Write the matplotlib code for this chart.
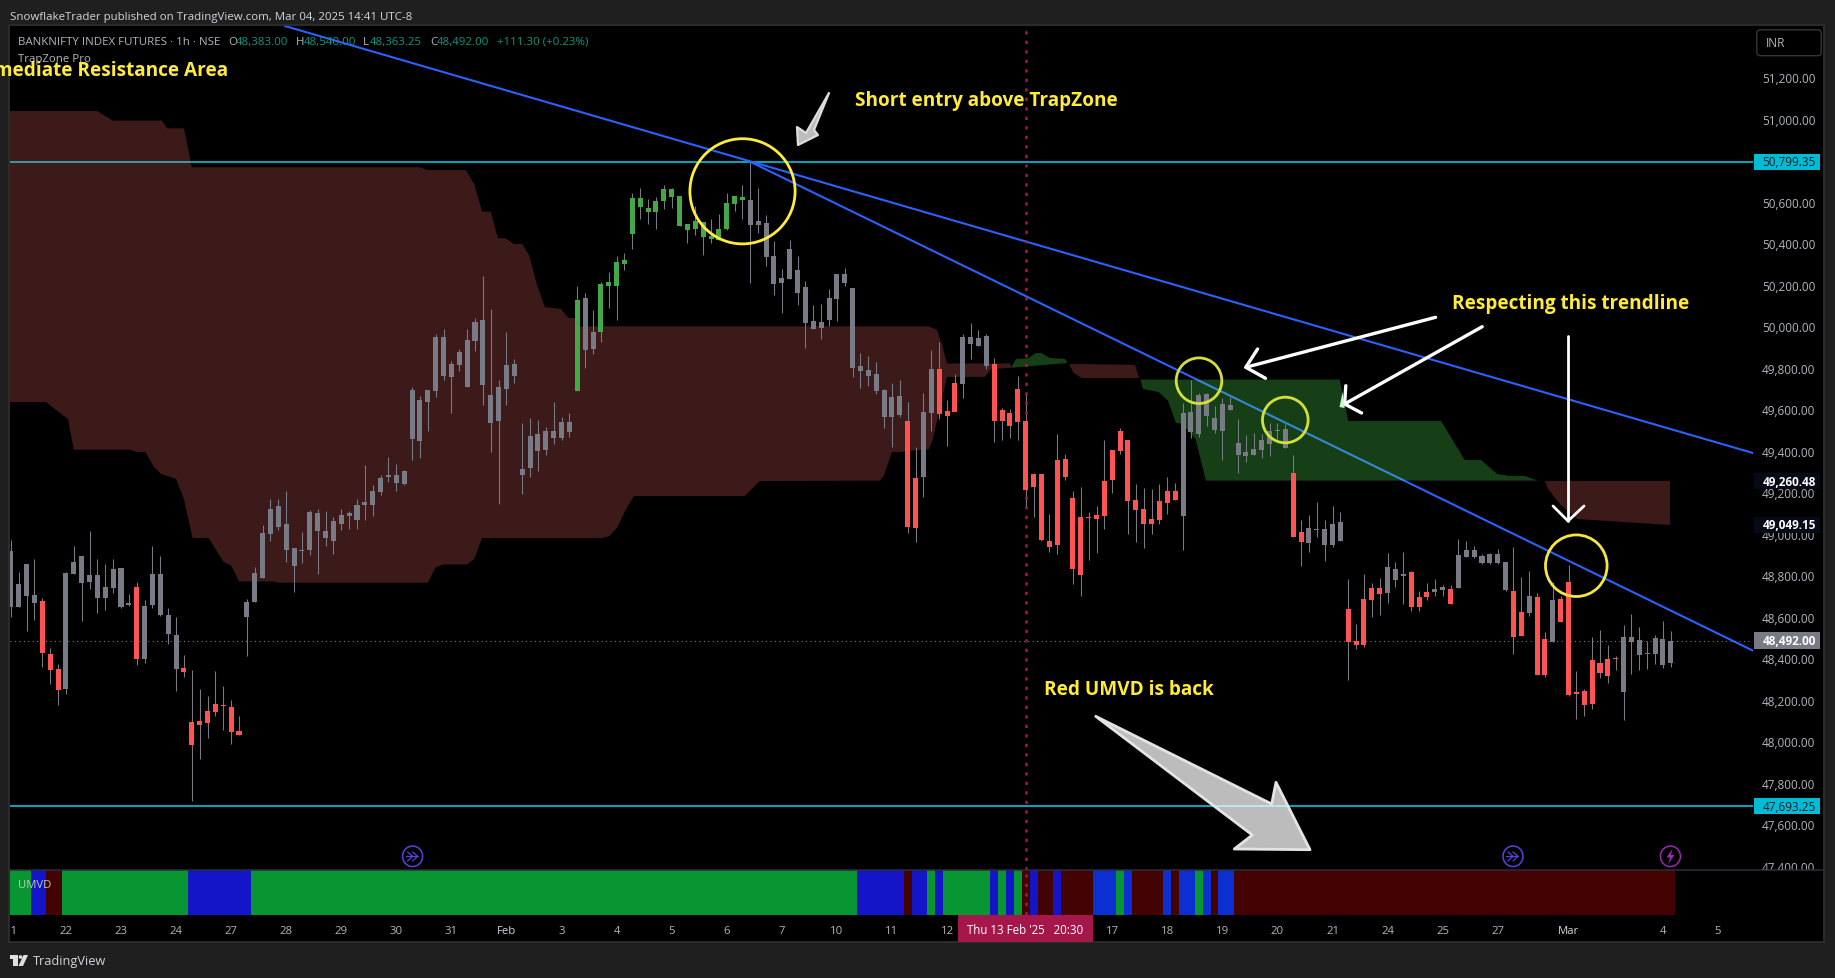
import numpy as np
import matplotlib
matplotlib.use("Agg")
import matplotlib.pyplot as plt
from matplotlib.patches import Rectangle, Polygon, Ellipse, Circle, FancyBboxPatch
from matplotlib.transforms import Affine2D, Bbox, blended_transform_factory
from matplotlib.lines import Line2D

W, H = 1835, 979
plt.rcParams['font.family'] = ['Open Sans', 'DejaVu Sans']

# ---------------- data ----------------
highs = [48976,48822,48861,48885,48697,48456,48378,48822,48948,48899,
49020,48885,48861,48885,48841,48716,48774,48687,48948,48899,
48649,48605,48422,48350,48258,48224,48345,48272,48205,48128,
48692,48846,49049,49174,49174,49213,48938,49015,49121,49126,
49116,49087,49126,49116,49174,49338,49242,49290,49377,49343,
49314,49715,49672,49701,49970,49995,49840,49898,49995,50048,
50250,50091,49749,49980,49850,49541,49565,49556,49522,49643,
49570,49590,50202,50168,50086,50221,50269,50346,50361,50650,
50674,50621,50631,50689,50674,50636,50500,50587,50510,50525,
50549,50650,50636,50689,50800,50674,50544,50419,50284,50423,
50346,50226,50110,50115,50187,50260,50288,50192,49878,49864,
49835,49705,49733,49748,49642,49425,49685,49893,49931,49651,
49777,49970,50023,49989,49970,49854,49613,49608,49767,49680,
49299,49295,49102,49487,49391,49213,49232,49111,49140,49459,
49410,49516,49459,49246,49227,49222,49246,49280,49251,49637,
49748,49685,49685,49622,49661,49666,49560,49483,49492,49487,
49541,49541,49536,49386,49073,49097,49160,49073,49140,49111,
48789,48572,48813,48769,48793,48914,48871,48919,48827,48731,
48769,48789,48760,48760,48982,48972,48948,48909,48914,48933,
48871,48943,48798,48827,48721,48533,48774,48707,48856,48345,
48258,48509,48543,48470,48417,48567,48620,48557,48490,48519,
48586,48540]
lows = [48605,48653,48538,48591,48364,48282,48181,48234,48813,48586,
48740,48624,48639,48721,48649,48658,48374,48383,48649,48610,
48475,48248,48316,47719,47920,48021,48129,48062,47994,48036,
48417,48677,48793,48972,49025,48870,48726,48866,48904,48812,
48947,48909,49025,49030,49030,49073,49092,49193,49256,49213,
49242,49362,49372,49503,49667,49749,49590,49792,49715,49889,
49628,49401,49150,49628,49734,49198,49280,49309,49386,49439,
49459,49473,49695,49806,49874,49932,50096,50038,50279,50380,
50525,50501,50476,50573,50578,50491,50409,50446,50351,50409,
50423,50472,50563,50525,50216,50457,50298,50158,50071,50235,
50110,49903,49994,49946,50009,50033,50202,49763,49710,49719,
49681,49518,49425,49570,49010,48967,49184,49502,49560,49430,
49661,49661,49849,49912,49801,49449,49459,49468,49459,49135,
49087,48972,48918,48909,49266,48764,48706,48880,48914,49029,
49203,49391,49005,48967,48938,49005,49053,49102,49169,48928,
49468,49473,49526,49492,49362,49603,49299,49352,49386,49372,
49381,49463,49420,48990,48851,48918,48991,48875,48943,48972,
48302,48451,48461,48605,48615,48673,48750,48668,48634,48634,
48687,48707,48707,48668,48745,48895,48890,48861,48861,48861,
48731,48427,48514,48610,48326,48316,48485,48581,48224,48113,
48128,48162,48311,48287,48350,48109,48330,48350,48355,48379,
48359,48363]
body_top = [48923,48764,48861,48711,48682,48427,48354,48817,48870,48899,
48808,48808,48750,48837,48841,48673,48750,48658,48813,48813,
48615,48518,48359,48099,48103,48152,48185,48180,48171,48055,
48677,48817,49010,49126,49140,49054,48938,48928,49111,49107,
49020,49068,49097,49107,49145,49160,49213,49275,49290,49290,
49309,49701,49652,49701,49956,49956,49826,49884,49942,50028,
50038,49676,49715,49821,49826,49319,49478,49488,49502,49502,
49546,49546,50134,50144,49980,50211,50221,50317,50327,50626,
50626,50578,50612,50669,50669,50636,50501,50515,50510,50443,
50476,50602,50636,50631,50616,50515,50505,50346,50240,50380,
50279,50197,50033,50028,50144,50260,50260,50192,49816,49797,
49777,49700,49666,49671,49550,49275,49594,49801,49801,49598,
49733,49955,49955,49950,49960,49825,49603,49589,49704,49550,
49295,49295,48971,49362,49367,49179,49087,49087,49097,49261,
49410,49502,49459,49169,49126,49078,49164,49213,49213,49589,
49594,49676,49680,49565,49632,49627,49444,49401,49415,49459,
49502,49507,49511,49299,49015,49034,49029,49029,49053,49063,
48644,48490,48692,48745,48745,48847,48837,48813,48822,48702,
48726,48740,48750,48740,48904,48928,48928,48900,48909,48909,
48871,48731,48630,48707,48702,48499,48687,48692,48774,48244,
48249,48398,48384,48403,48408,48509,48509,48495,48432,48504,
48499,48492]
body_bot = [48653,48653,48706,48673,48432,48350,48253,48258,48813,48769,
48774,48697,48697,48745,48653,48663,48403,48403,48663,48615,
48523,48354,48340,47989,48086,48095,48148,48177,48050,48038,
48605,48677,48793,49005,49039,48928,48851,48923,48928,49020,
48986,48972,49054,49092,49073,49145,49145,49208,49280,49251,
49247,49464,49454,49643,49696,49768,49763,49821,49715,49937,
49725,49541,49551,49705,49768,49290,49324,49406,49410,49468,
49469,49497,49695,49893,49898,49980,50202,50202,50308,50452,
50583,50558,50558,50612,50631,50491,50472,50476,50438,50428,
50423,50476,50597,50616,50496,50496,50341,50211,50216,50235,
50168,50023,49994,49999,50038,50139,50216,49806,49792,49768,
49695,49570,49570,49579,49039,49034,49280,49589,49584,49574,
49594,49729,49921,49912,49815,49550,49550,49526,49545,49217,
49232,48976,48943,48952,49280,48836,48808,49082,49078,49092,
49266,49406,49164,49121,49053,49053,49073,49155,49169,49092,
49497,49487,49574,49507,49502,49603,49386,49381,49386,49410,
49439,49502,49420,48990,48967,48962,49024,48952,48952,48972,
48485,48470,48470,48687,48716,48721,48784,48803,48654,48654,
48702,48726,48736,48668,48745,48895,48895,48866,48866,48866,
48736,48509,48514,48625,48326,48326,48485,48581,48229,48234,
48181,48186,48335,48321,48403,48244,48485,48422,48427,48427,
48374,48383]

candle_states = ['gray','red','gray','red','gray','red','gray','green','gray','green','gray',
                 'red','gray','red','gray','red','gray','red','gray','red','gray','red','gray',
                 'red','gray','red','gray','red','gray','red','gray']
candle_runs   = [4,3,9,1,5,8,42,1,2,19,20,2,2,3,4,24,14,2,5,5,3,3,2,1,7,2,1,2,1,8,7]

umvd_states = ['g','b','d','g','b','g','b','d','b','g','b','g','b','g','b','g','d','b','d','b','d',
               'B','g','B','d','B','d','B','g','B','d','B','d']
umvd_runs   = [3,2,2,16,8,77,6,1,2,1,1,6,1,1,1,1,1,1,2,1,4,3,1,1,4,1,1,2,1,1,1,2,56]

# TrapZone cloud edges: bar position, price
red_up_x = [-0.11,10.95,12.94,19.2,19.84,22.0,23.0,52.0,52.9,57.85,58.9,59.9,61.0,61.9,62.8,64,65,65.9,66.9,67.9,69.9,70.9,71.6,72.1,116.6,117.7,118.4,119,127.1]
red_up_y = [51045,51045,50999,50999,50962,50962,50774,50774,50761,50761,50693,50560,50560,50432,50432,50404,50404,50348,50203,50099,50091,50047,50047,50007,50007,49991,49914,49828,49828]
red_lo_x = [-0.11,4.46,5.6,7.26,8.0,15.2,16,17.1,18.2,19.1,21,22,23.1,25.15,27,28,29,33.3,33.95,53,54,55,58,58.9,59.9,75.1,76.1,77.1,78.2,79.2,93.3,95.2,110.5,111,112,113,116.7,117.2,119,123.8,124.6,127.1]
red_lo_y = [49642,49642,49608,49560,49412,49412,49401,49401,49329,49295,49271,49174,48986,48986,48872,48853,48777,48777,48771,48771,48845,48859,48859,48885,48986,48986,48996,49039,49126,49189,49189,49261,49263,49290,49401,49401,49415,49464,49763,49763,49801,49807]
bump_up_x = [127.1,127.8,129.3,130.3,131,132.1,134,134.3]
bump_up_y = [49807,49850,49853,49878,49878,49854,49850,49830]
bump_lo_x = [127.1,134.3]
bump_lo_y = [49807,49830]
red2_up_x = [134.5,135.1,136.1,142.9,143.4]
red2_up_y = [49825,49825,49825,49821,49758]
red2_lo_x = [134.5,135.1,136.1,143.4]
red2_lo_y = [49825,49782,49758,49758]
green_up_x = [143.6,168.9,170,181.8,184.8,186.9,188.9,190.6,192.5,194.1]
green_up_y = [49750,49750,49551,49551,49362,49362,49295,49285,49285,49263]
green_lo_x = [143.6,143.9,145.9,147.1,148.1,148.9,150.6,151.9,194.1]
green_lo_y = [49750,49705,49690,49648,49541,49537,49464,49263,49263]
red3_up_x = [195,210.9]
red3_up_y = [49261,49261]
red3_lo_x = [195,195.4,196.9,199.1,210.9]
red3_lo_y = [49261,49223,49150,49078,49049]

trend1_x = [34.84,221.45]
trend1_y = [51455,49396]
trend2_x = [94,221.45]
trend2_y = [50800,48443]

level_high = 50799.35
level_low = 47693.25
last_close = 48492.00
cloud_top_tag = 49260.48
cloud_bot_tag = 49049.15
cursor_bar = 129

price_ticks = [51200,51000,50600,50400,50200,50000,49800,49600,49400,49200,49000,48800,48600,48400,48200,48000,47800,47600,47400]
day_ticks = [0,7,14,21,28,35,42,49,56,63,70,77,84,91,98,105,112,119,140,147,154,161,168,175,182,189,198,210,217]
day_labels = ['21','22','23','24','27','28','29','30','31','Feb','3','4','5','6','7','10','11','12','17','18','19','20','21','24','25','27','Mar','4','5']

# ---------------- layout ----------------
def axrect(l, t, r, b):
    return [l / W, 1 - b / H, (r - l) / W, (b - t) / H]

BG = '#1f1f1f'
EDGE = '#2c2c2c'
TXT = '#b2b5be'
YEL = '#ffeb3b'
XMIN, XMAX = -0.11, 221.45
YMIN, YMAX = 47387, 51455
fig = plt.figure(figsize=(W / 100, H / 100), dpi=100, facecolor=BG)
px = Affine2D().scale(1, -1).translate(0, H)

fig.add_artist(Rectangle((9, 26), 1815, 917, transform=px, fc='black', ec=EDGE, lw=1.4, zorder=-5))

ax = fig.add_axes(axrect(10, 27, 1753, 870.7), facecolor='black')
ax2 = fig.add_axes(axrect(10, 870.7, 1753, 916), facecolor='black')
for a in (ax, ax2):
    for s in a.spines.values():
        s.set_visible(False)

idx = np.arange(len(highs))
highs, lows, body_top, body_bot = map(np.array, (highs, lows, body_top, body_bot))
assert len({len(highs), len(lows), len(body_top), len(body_bot)}) == 1

ax.set_xlim(XMIN, XMAX)
ax.set_ylim(YMIN, YMAX)
ax2.set_xlim(XMIN, XMAX)
ax2.set_ylim(0, 1)

# lines under the translucent cloud
ax.axhline(level_high, color='#00bcd4', lw=1.25, zorder=1)
ax.axhline(level_low, color='#00bcd4', lw=1.25, zorder=1)
ax.plot(trend1_x, trend1_y, color='#2962ff', lw=1.5, zorder=1, scalex=False, scaley=False)
ax.plot(trend2_x, trend2_y, color='#2962ff', lw=1.5, zorder=1, scalex=False, scaley=False)
ax.axhline(last_close, color='#787b86', lw=0.8, ls=(0, (1, 3)), zorder=1)

# cloud
RED_C = (0.957, 0.408, 0.408, 0.25)
GRN_C = (0.345, 1.0, 0.376, 0.25)
def cloud(ux, uy, lx, ly, c):
    ax.fill(np.r_[ux, lx[::-1]], np.r_[uy, ly[::-1]], color=c, lw=0, zorder=2)
cloud(red_up_x, red_up_y, red_lo_x, red_lo_y, RED_C)
cloud(bump_up_x, bump_up_y, bump_lo_x, bump_lo_y, GRN_C)
cloud(red2_up_x, red2_up_y, red2_lo_x, red2_lo_y, RED_C)
cloud(green_up_x, green_up_y, green_lo_x, green_lo_y, GRN_C)
cloud(red3_up_x, red3_up_y, red3_lo_x, red3_lo_y, RED_C)

# cursor line
for a in (ax, ax2):
    a.axvline(cursor_bar, color='#a5174a', lw=1.8, ls=(0, (1.3, 2.5)), zorder=3.5)

# candles
palette = {'gray': '#787b86', 'red': '#ff5252', 'green': '#43a847'}
states = np.repeat(candle_states, candle_runs)
ax.vlines(idx, lows, highs, color='#787b86', lw=0.75, zorder=3)
ax.bar(idx, np.maximum(body_top - body_bot, 6), bottom=body_bot, width=0.64,
       color=[palette[s] for s in states], lw=0, zorder=4)
ax.margins(0)
ax.set_xlim(XMIN, XMAX)
ax.set_ylim(YMIN, YMAX)

# UMVD strip
umvd_pal = {'g': '#089632', 'b': '#1414c8', 'B': '#0b2fd1', 'd': '#440303'}
ustates = np.repeat(umvd_states, umvd_runs)
ax2.bar(idx, 1, bottom=0, width=1.0, color=[umvd_pal[s] for s in ustates], lw=0, antialiased=False, zorder=1)
ax2.set_ylim(0, 1)
ax2.set_xlim(XMIN, XMAX)
ax2.set_yticks([])

pane_box = Bbox([[11, H - 943], [1825, H - 27]])
# time axis
ax2.set_xticks(day_ticks)
ax2.set_xticklabels(day_labels)
ax2.tick_params(axis='x', length=0, pad=7.2, labelsize=8.2, colors=TXT)
for lb, t in zip(ax2.get_xticklabels(), day_labels):
    lb.set_clip_box(pane_box)
    lb.set_clip_on(True)
    if t in ('Feb', 'Mar'):
        lb.set_color('#d1d4dc')

# price axis
ax.set_xticks([])
ax.yaxis.tick_right()
ax.set_yticks(price_ticks)
ax.set_yticklabels([f'{p:,.2f}' for p in price_ticks])
ax.tick_params(axis='y', length=0, pad=6.5, labelsize=8.5, colors=TXT)
price_box = Bbox([[1753, H - 870.7], [1825, H - 27]])
for lb in ax.get_yticklabels():
    lb.set_clip_box(price_box)
    lb.set_clip_on(True)
    lb.set_va('center')

# price tags
tag_tr = blended_transform_factory(Affine2D(), ax.transData)
tags = [(level_high, '#00bcd4', '#0b1d2a', 'normal'), (level_low, '#00bcd4', '#0b1d2a', 'normal'),
        (last_close, '#787b86', 'white', 'bold'), (cloud_top_tag, '#050a17', 'white', 'bold'),
        (cloud_bot_tag, '#050a17', 'white', 'bold')]
for p, fc, tc, fw in tags:
    r = Rectangle((1754, p - 40), 66, 80, transform=tag_tr, fc=fc, ec='none', clip_on=False, zorder=6)
    ax.add_patch(r)
    ax.text(1762.3, p, f'{p:,.2f}', transform=tag_tr, color=tc, fontsize=8.5, fontweight=fw,
            va='center', ha='left', clip_on=False, zorder=7)

# INR button
ax.add_patch(FancyBboxPatch((1759, 33), 60, 21.5, boxstyle='round,pad=2.2,rounding_size=3.5', transform=px,
                            fc='black', ec='#363636', lw=1.0, clip_on=False, zorder=6))
ax.text(1766, 44, 'INR', transform=px, color=TXT, fontsize=8.6, va='center', ha='left', clip_on=False, zorder=7)

# header / footer
fig.text(10 / W, 1 - 17.5 / H, 'SnowflakeTrader published on TradingView.com, Mar 04, 2025 14:41 UTC-8',
         color='#d1d4dc', fontsize=8.27, va='center', ha='left')
fig.text(33 / W, 1 - 962 / H, 'TradingView', color='#d1d4dc', fontsize=9.2, va='center', ha='left')
fig.add_artist(Rectangle((9.5, 956), 8, 3.5, transform=px, fc='#e0e0e0', ec='none'))
fig.add_artist(Rectangle((13, 956), 4.5, 11, transform=px, fc='#e0e0e0', ec='none'))
fig.add_artist(Circle((20.5, 958), 1.8, transform=px, fc='#e0e0e0', ec='none'))
fig.add_artist(Polygon([(23.5, 956), (28, 956), (23, 967), (18.5, 967)], transform=px, fc='#e0e0e0', ec='none'))

# legend text
LEG = [(18, 'BANKNIFTY INDEX FUTURES · 1h · NSE', TXT), (228.5, 'O', TXT), (236, '48,383.00', '#089981'),
       (296, 'H', TXT), (304, '48,540.00', '#089981'), (363, 'L', TXT), (370, '48,363.25', '#089981'),
       (430, 'C', TXT), (437, '48,492.00', '#089981'), (497, '+111.30 (+0.23%)', '#089981')]
for x, s, c in LEG:
    ax.text(x, 42.2, s, transform=px, color=c, fontsize=8.25, va='center', ha='left', zorder=8)
ax.text(18, 59.5, 'TrapZone Pro', transform=px, color=TXT, fontsize=8.25, va='center', ha='left', zorder=8)

# annotations
def note(x, y, s, ha='left'):
    ax.text(x, y, s, transform=px, color=YEL, fontsize=13.65, fontweight='bold', va='center', ha=ha, zorder=9)
note(228, 71, 'Intermediate Resistance Area', ha='right')
note(855, 101.5, 'Short entry above TrapZone')
note(1452, 304.5, 'Respecting this trendline')
note(1044, 690.5, 'Red UMVD is back')

for cx, cy, r, c in [(742.5, 192.3, 52.6, '#ffeb3b'), (1199, 381.7, 22.8, '#d4e03a'),
                     (1285.3, 421, 22.8, '#d4e03a'), (1576.3, 566.7, 30.8, '#f5e642')]:
    ax.add_patch(Ellipse((cx, cy), 2 * r, 2 * r, transform=px, fc='none', ec=c, lw=2.0, zorder=8))

def white(pts, lw=2.4, c='white'):
    xs, ys = zip(*pts)
    ax.add_line(Line2D(xs, ys, transform=px, color=c, lw=lw, zorder=8, solid_capstyle='round', solid_joinstyle='round'))
white([(1435.6, 318.3), (1245.8, 368.3)])
white([(1257.6, 350), (1245.8, 368.3), (1265.5, 379.3)])
white([(1482.2, 327.7), (1344.6, 405)])
white([(1345.8, 386.7), (1344.6, 405), (1361.6, 414)])
ax.add_patch(Polygon([(1339.5, 408), (1342.6, 393), (1344.6, 409)], transform=px, fc='#c8f5d0', ec='none', zorder=8))
white([(1568, 337), (1568, 522)], lw=2.0)
white([(1553, 507), (1568, 522), (1584, 507)], lw=2.0)

ax.add_patch(Polygon([(829, 94), (814, 131), (818, 136), (798, 146), (797, 128), (806, 134)], transform=px,
                     fc=(1, 1, 1, 0.74), ec='#dddddd', lw=1.6, joinstyle='round', zorder=8))
ax.add_patch(Polygon([(1095.7, 717.3), (1271.7, 805), (1276, 783.3), (1310, 850.7), (1234.3, 850), (1252.3, 836)],
                     transform=px, fc=(1, 1, 1, 0.74), ec='#e4e4e4', lw=2.0, joinstyle='round', zorder=8))

# event icons
def icon(cx, c, kind):
    ax.add_patch(Ellipse((cx, 857.3), 20, 20.5, transform=px, fc='black', ec=c, lw=1.1, zorder=8))
    if kind == 'arrow':
        white([(cx - 5, 853), (cx, 857.3), (cx - 5, 862)], lw=0.9, c=c)
        white([(cx, 853), (cx + 5, 857.3), (cx, 862)], lw=0.9, c=c)
        white([(cx - 7, 857.3), (cx + 5, 857.3)], lw=0.9, c=c)
    else:
        ax.add_patch(Polygon([(cx + 2, 850), (cx - 4, 858.5), (cx - 0.5, 858.5), (cx - 2, 865), (cx + 4, 856), (cx + 0.5, 856)],
                             transform=px, fc=c, ec='none', zorder=9))
icon(412.6, '#5e3fe0', 'arrow')
icon(1513, '#5e3fe0', 'arrow')
icon(1670.4, '#9c27b0', 'bolt')

ax2.text(17.6, 885.7, 'UMVD', transform=px, color='#b7cdb9', fontsize=8.1, va='center', ha='left', zorder=5)

# pane divider
fig.add_artist(Line2D([10, 1824], [870.7, 870.7], transform=px, color='#2a2e39', lw=1.1, zorder=4))

# cursor label
fig.add_artist(Rectangle((958, 916), 135, 27, transform=px, fc='#a5174a', ec='none', zorder=5))
fig.text(1025.5 / W, 1 - 930.5 / H, "Thu 13 Feb '25   20:30", color='white', fontsize=8.3, va='center', ha='center', zorder=6)

fig.savefig('out.png', dpi=100, facecolor=BG)
